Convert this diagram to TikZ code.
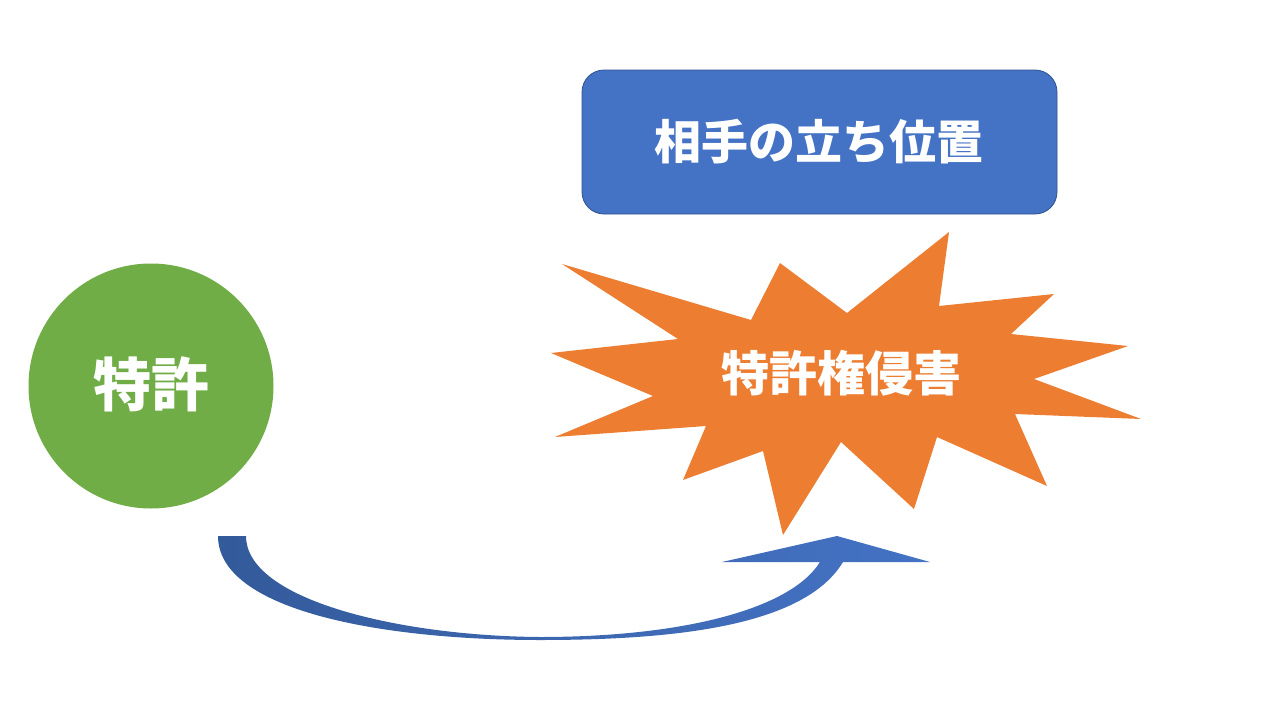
\documentclass[tikz,border=0pt]{standalone}
\usepackage{fontspec}
\newfontfamily\jp{Noto Sans CJK JP}
\usetikzlibrary{shapes.geometric}
\definecolor{pgreen}{HTML}{70AD47}
\definecolor{porange}{HTML}{ED7D31}
\definecolor{pblue}{HTML}{4472C4}
\definecolor{pblueedge}{HTML}{2F528F}
\definecolor{pbluedark}{HTML}{335A9A}
\tikzset{
  lbl/.style={text=white, font=\jp\bfseries\fontsize{#1}{#1}\selectfont, inner sep=0pt},
}
\begin{document}
\begin{tikzpicture}[x=1pt,y=-1pt]
\useasboundingbox (0,0) rectangle (1280,720);
% circle
\node[circle, fill=pgreen, minimum size=245pt, inner sep=0pt] (pat) at (151,386) {};
\node[lbl=58] (patt) at (151,384) {特許};
% rounded rectangle
\node[draw=pblueedge, line width=0.8pt, fill=pblue, rounded corners=22pt,
      minimum width=475pt, minimum height=144pt, inner sep=0pt] (pos) at (819.5,142) {};
\node[lbl=47] (post) at (819,142) {相手の立ち位置};
% starburst
\fill[porange] (562,264) -- (751,320) -- (780,263) -- (847,313) -- (949,232)
  -- (939,306) -- (1054,294) -- (1011,334) -- (1128,346) -- (1034,379)
  -- (1141,419) -- (1015,414) -- (1047,486) -- (937,437) -- (914,509)
  -- (841,442) -- (783,535) -- (763,451) -- (683,480) -- (706,426)
  -- (555,437) -- (653,396) -- (551,353) -- (678,339) -- cycle;
\node[lbl=48] (inf) at (841,373) {特許権侵害};
% curved up arrow
\shade[left color=pbluedark, right color=pblue, middle color=pbluedark!45!pblue]
  (218,536) -- (246,536)
  .. controls (246,600) and (400,636) .. (540,637)
  .. controls (680,637) and (790,610) .. (820,562)
  -- (722,562) -- (837,536) -- (930,562) -- (843,562)
  .. controls (805,625) and (680,640) .. (540,640)
  .. controls (380,640) and (218,610) .. (218,536) -- cycle;
\end{tikzpicture}
\end{document}
